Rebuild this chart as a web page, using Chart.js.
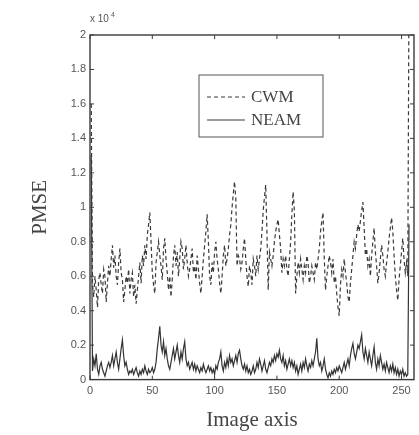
<!DOCTYPE html>
<html>
<head>
<meta charset="utf-8">
<script src="https://cdn.jsdelivr.net/npm/chart.js@4/dist/chart.umd.min.js"></script>
<style>
  html, body { margin: 0; padding: 0; background: #fff; }
  #wrap { width: 419px; height: 435px; }
</style>
</head>
<body>
<div id="wrap"><canvas id="pmseChart" width="419" height="435"></canvas></div>
<script>
// PMSE per image column, in units of 1e4
const xTicks = [0, 50, 100, 150, 200, 250];
const yTicks = [0, 0.2, 0.4, 0.6, 0.8, 1, 1.2, 1.4, 1.6, 1.8, 2];

const cwm = [
    1.6, 0.55, 0.48, 0.6, 0.52, 0.42, 0.58, 0.62, 0.55, 0.5, 0.64, 0.6, 0.45, 0.56, 0.66, 0.6,
    0.7, 0.78, 0.65, 0.72, 0.6, 0.55, 0.68, 0.76, 0.62, 0.58, 0.45, 0.52, 0.6, 0.56, 0.64, 0.5,
    0.58, 0.62, 0.48, 0.55, 0.44, 0.52, 0.6, 0.68, 0.56, 0.72, 0.66, 0.78, 0.7, 0.84, 0.9, 0.97,
    0.8, 0.62, 0.55, 0.5, 0.68, 0.74, 0.8, 0.72, 0.66, 0.58, 0.76, 0.82, 0.7, 0.62, 0.52, 0.6,
    0.48, 0.58, 0.72, 0.78, 0.66, 0.74, 0.6, 0.7, 0.8, 0.76, 0.64, 0.7, 0.78, 0.68, 0.6, 0.64,
    0.7, 0.76, 0.62, 0.66, 0.58, 0.72, 0.64, 0.56, 0.5, 0.6, 0.7, 0.78, 0.86, 0.96, 0.8, 0.6,
    0.55, 0.68, 0.62, 0.74, 0.8, 0.7, 0.64, 0.56, 0.5, 0.6, 0.72, 0.78, 0.66, 0.7, 0.76, 0.84,
    0.9, 1.0, 1.08, 1.15, 1.05, 0.66, 0.72, 0.7, 0.64, 0.68, 0.76, 0.82, 0.7, 0.6, 0.54, 0.66,
    0.62, 0.55, 0.7, 0.66, 0.6, 0.72, 0.64, 0.7, 0.76, 0.86, 0.98, 1.06, 1.13, 0.85, 0.52, 0.74,
    0.7, 0.66, 0.72, 0.8, 0.86, 0.9, 0.93, 0.84, 0.76, 0.62, 0.7, 0.66, 0.72, 0.64, 0.6, 0.7,
    0.8, 0.96, 1.09, 0.98, 0.5, 0.6, 0.68, 0.62, 0.7, 0.64, 0.58, 0.66, 0.62, 0.72, 0.68, 0.56,
    0.6, 0.66, 0.62, 0.58, 0.68, 0.64, 0.7, 0.76, 0.86, 0.92, 0.97, 0.7, 0.52, 0.6, 0.66, 0.72,
    0.68, 0.62, 0.7, 0.56, 0.6, 0.5, 0.42, 0.37, 0.55, 0.64, 0.6, 0.7, 0.62, 0.56, 0.48, 0.45,
    0.56, 0.64, 0.72, 0.8, 0.76, 0.84, 0.9, 0.86, 0.92, 0.98, 1.03, 0.88, 0.72, 0.76, 0.66, 0.7,
    0.6, 0.72, 0.8, 0.88, 0.74, 0.66, 0.56, 0.62, 0.7, 0.78, 0.72, 0.64, 0.6, 0.68, 0.74, 0.82,
    0.88, 0.94, 0.86, 0.72, 0.6, 0.52, 0.46, 0.58, 0.66, 0.74, 0.82, 0.7, 0.62, 0.68, 0.6, 2.3,
];

const neam = [
    1.3, 0.05, 0.12, 0.08, 0.15, 0.06, 0.03, 0.08, 0.1, 0.06, 0.04, 0.02, 0.05, 0.08, 0.1, 0.07,
    0.1, 0.14, 0.08, 0.12, 0.16, 0.1, 0.06, 0.12, 0.18, 0.23, 0.14, 0.08, 0.1, 0.06, 0.03, 0.05,
    0.04, 0.06, 0.03, 0.05, 0.07, 0.04, 0.02, 0.05, 0.03, 0.06, 0.04, 0.08, 0.05, 0.03, 0.06, 0.04,
    0.05, 0.07, 0.04, 0.06, 0.1, 0.18, 0.24, 0.31, 0.2, 0.16, 0.22, 0.14, 0.18, 0.12, 0.08, 0.06,
    0.1, 0.14, 0.18, 0.12, 0.16, 0.2, 0.14, 0.1, 0.16, 0.12, 0.18, 0.22, 0.12, 0.08, 0.1, 0.06,
    0.08, 0.1, 0.06, 0.09, 0.05, 0.08, 0.06, 0.04, 0.07, 0.05, 0.09, 0.06, 0.04, 0.06, 0.08, 0.05,
    0.07, 0.04, 0.06, 0.03, 0.08, 0.06, 0.1, 0.12, 0.16, 0.08, 0.05, 0.1, 0.07, 0.12, 0.08, 0.14,
    0.1, 0.12, 0.08, 0.11, 0.14, 0.1, 0.15, 0.17, 0.12, 0.08, 0.06, 0.09, 0.05, 0.08, 0.04, 0.06,
    0.03, 0.05, 0.08, 0.04, 0.06, 0.1, 0.07, 0.12, 0.09, 0.05, 0.08, 0.11, 0.06, 0.04, 0.07, 0.1,
    0.08, 0.12, 0.1, 0.14, 0.11, 0.15, 0.13, 0.17, 0.12, 0.1, 0.14, 0.08, 0.11, 0.06, 0.09, 0.12,
    0.08, 0.11, 0.07, 0.1, 0.05, 0.08, 0.03, 0.06, 0.09, 0.05, 0.1, 0.07, 0.12, 0.08, 0.05, 0.09,
    0.07, 0.11, 0.08, 0.12, 0.16, 0.24, 0.12, 0.08, 0.1, 0.05, 0.08, 0.12, 0.06, 0.03, 0.01, 0.04,
    0.02, 0.05, 0.03, 0.06, 0.04, 0.07, 0.05, 0.08, 0.06, 0.04, 0.07, 0.1, 0.06, 0.09, 0.12, 0.08,
    0.14, 0.18, 0.21, 0.15, 0.12, 0.16, 0.2, 0.18, 0.22, 0.26, 0.16, 0.12, 0.18, 0.14, 0.1, 0.16,
    0.12, 0.08, 0.14, 0.19, 0.1, 0.06, 0.12, 0.08, 0.14, 0.1, 0.06, 0.09, 0.05, 0.1, 0.07, 0.04,
    0.08, 0.05, 0.09, 0.04, 0.07, 0.03, 0.06, 0.02, 0.05, 0.03, 0.06, 0.02, 0.04, 0.02, 0.03, 0.9,
];

// column index 1..256 along the image
const columns = cwm.map((_, i) => i + 1);

const INK = "#3a3a3a";
const TICK_FONT = { family: "'Liberation Sans', Arial, sans-serif", size: 11 };
const TITLE_FONT = { family: "'Liberation Serif', 'Times New Roman', serif", size: 21 };

// box round the plot, inward ticks, legend and the x10^4 note
const matlabFrame = {
    id: "matlabFrame",
    afterDraw(chart) {
        const { ctx, chartArea: a, scales } = chart;
        ctx.save();
        ctx.strokeStyle = INK;
        ctx.lineWidth = 1.4;
        ctx.strokeRect(a.left, a.top, a.right - a.left, a.bottom - a.top);

        ctx.lineWidth = 1;
        xTicks.forEach((t) => {
            const x = scales.x.getPixelForValue(t);
            ctx.beginPath();
            ctx.moveTo(x, a.bottom); ctx.lineTo(x, a.bottom - 4);
            ctx.moveTo(x, a.top); ctx.lineTo(x, a.top + 4);
            ctx.stroke();
        });
        yTicks.forEach((t) => {
            const y = scales.y.getPixelForValue(t);
            ctx.beginPath();
            ctx.moveTo(a.left, y); ctx.lineTo(a.left + 4, y);
            ctx.moveTo(a.right, y); ctx.lineTo(a.right - 4, y);
            ctx.stroke();
        });

        // exponent note
        ctx.fillStyle = "#555";
        ctx.font = "10px 'Liberation Sans', Arial, sans-serif";
        ctx.textBaseline = "alphabetic";
        ctx.fillText("x 10", a.left, a.top - 13);
        ctx.font = "7px 'Liberation Sans', Arial, sans-serif";
        ctx.fillText("4", a.left + 21, a.top - 18);

        // legend box
        const lx = 199, ly = 75, lw = 124, lh = 62;
        ctx.fillStyle = "#fff";
        ctx.fillRect(lx, ly, lw, lh);
        ctx.strokeStyle = "#555";
        ctx.lineWidth = 1;
        ctx.strokeRect(lx, ly, lw, lh);

        const rows = [
            { label: "CWM", dash: [4, 3], y: ly + 22 },
            { label: "NEAM", dash: [], y: ly + 45 },
        ];
        ctx.font = "17px 'Liberation Serif', 'Times New Roman', serif";
        ctx.textBaseline = "middle";
        rows.forEach((r) => {
            ctx.strokeStyle = INK;
            ctx.lineWidth = 1.2;
            ctx.setLineDash(r.dash);
            ctx.beginPath();
            ctx.moveTo(lx + 8, r.y); ctx.lineTo(lx + 46, r.y);
            ctx.stroke();
            ctx.setLineDash([]);
            ctx.fillStyle = "#444";
            ctx.fillText(r.label, lx + 52, r.y + 1);
        });
        ctx.restore();
    },
};

new Chart(document.getElementById("pmseChart"), {
    type: "line",
    data: {
        labels: columns,
        datasets: [
            {
                label: "CWM",
                data: columns.map((c, i) => ({ x: c, y: cwm[i] })),
                borderColor: INK,
                borderWidth: 1.2,
                borderDash: [4, 3],
                pointRadius: 0,
                tension: 0,
            },
            {
                label: "NEAM",
                data: columns.map((c, i) => ({ x: c, y: neam[i] })),
                borderColor: "#333",
                borderWidth: 1.2,
                pointRadius: 0,
                tension: 0,
            },
        ],
    },
    options: {
        responsive: false,
        animation: false,
        layout: { padding: { top: 35, right: 5, left: 0, bottom: 2 } },
        plugins: { legend: { display: false }, tooltip: { enabled: false } },
        scales: {
            x: {
                type: "linear",
                min: 0,
                max: 260,
                afterBuildTicks: (s) => { s.ticks = xTicks.map((v) => ({ value: v })); },
                ticks: { color: "#555", font: TICK_FONT, padding: 5, maxRotation: 0 },
                grid: { display: false, drawTicks: false, tickLength: 0 },
                border: { display: false },
                title: {
                    display: true,
                    text: "Image axis",
                    color: "#444",
                    font: TITLE_FONT,
                    padding: { top: 5, bottom: 0 },
                },
            },
            y: {
                min: 0,
                max: 2,
                afterBuildTicks: (s) => { s.ticks = yTicks.map((v) => ({ value: v })); },
                afterFit: (s) => { s.width = 90; },
                ticks: {
                    color: "#555",
                    font: TICK_FONT,
                    padding: 4,
                    callback: (v) => String(Math.round(v * 10) / 10),
                },
                grid: { display: false, drawTicks: false, tickLength: 0 },
                border: { display: false },
                title: {
                    display: true,
                    text: "PMSE",
                    color: "#444",
                    font: TITLE_FONT,
                    padding: { top: 28, bottom: 0 },
                },
            },
        },
    },
    plugins: [matlabFrame],
});
</script>
</body>
</html>
